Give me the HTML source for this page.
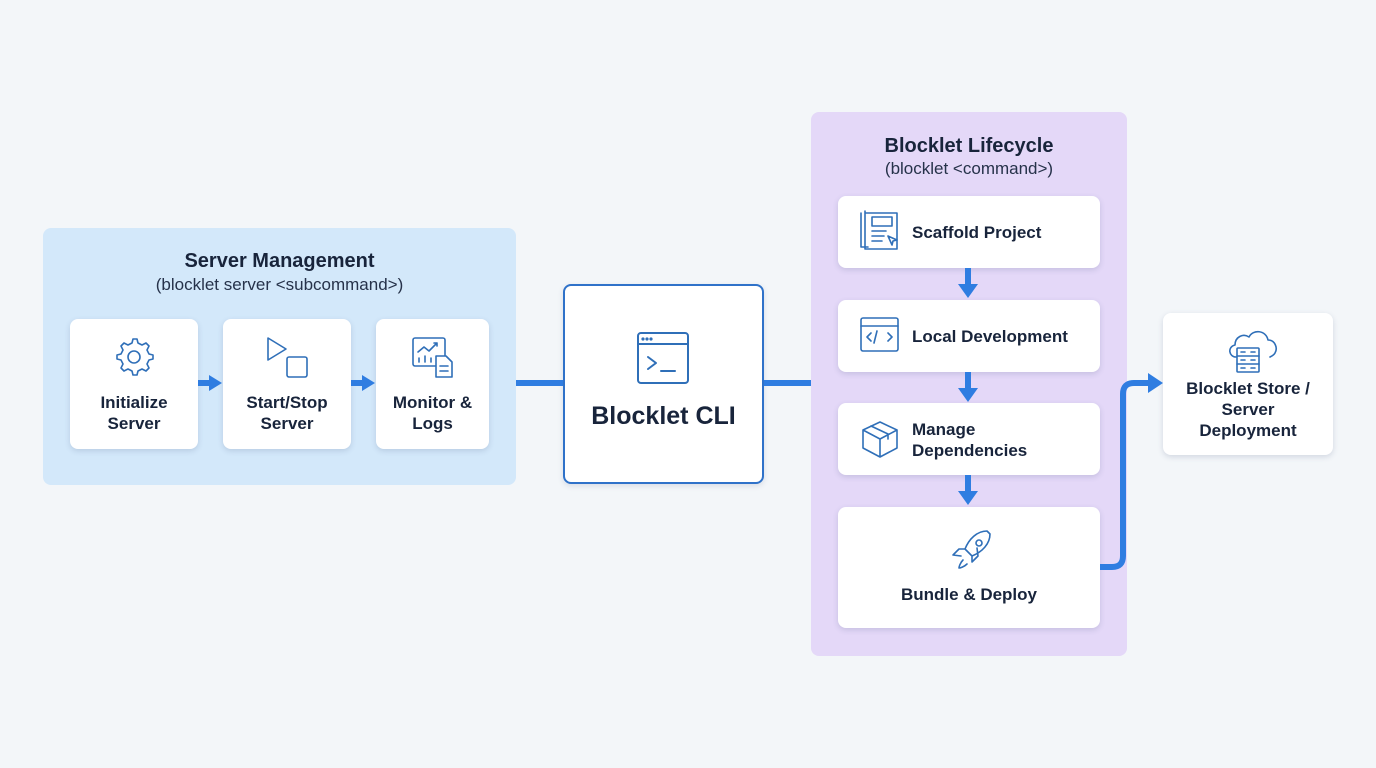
<!DOCTYPE html>
<html><head><style>
body{margin:0;width:1376px;height:768px;background:#f3f6f9;font-family:"Liberation Sans",sans-serif;position:relative;overflow:hidden;color:#18243b}
.a{position:absolute}
.card{position:absolute;background:#fff;border-radius:8px;box-shadow:0 2px 6px rgba(60,80,120,.18)}
.t{font-weight:bold;font-size:17px;text-align:center;line-height:21px}
.h{font-weight:bold;font-size:20px;text-align:center}
.s{font-size:17px;text-align:center;color:#26324a}
svg{position:absolute}
</style></head><body>
<div class="a" style="left:43px;top:228px;width:473px;height:257px;background:#d3e8fa;border-radius:8px"></div>
<div class="a h" style="left:43px;top:250px;width:473px">Server Management</div>
<div class="a s" style="left:43px;top:275px;width:473px">(blocklet server &lt;subcommand&gt;)</div>

<div class="card" style="left:70px;top:319px;width:128px;height:130px"></div>
<div class="card" style="left:223px;top:319px;width:128px;height:130px"></div>
<div class="card" style="left:376px;top:319px;width:113px;height:130px"></div>
<div class="a t" style="left:70px;top:392px;width:128px">Initialize<br>Server</div>
<div class="a t" style="left:223px;top:392px;width:128px">Start/Stop<br>Server</div>
<div class="a t" style="left:376px;top:392px;width:113px">Monitor &amp;<br>Logs</div>

<div class="a" style="left:811px;top:112px;width:316px;height:544px;background:#e4d8f8;border-radius:8px"></div>
<div class="a h" style="left:811px;top:135px;width:316px">Blocklet Lifecycle</div>
<div class="a s" style="left:811px;top:159px;width:316px">(blocklet &lt;command&gt;)</div>
<div class="card" style="left:838px;top:196px;width:262px;height:72px"></div>
<div class="card" style="left:838px;top:300px;width:262px;height:72px"></div>
<div class="card" style="left:838px;top:403px;width:262px;height:72px"></div>
<div class="card" style="left:838px;top:507px;width:262px;height:121px"></div>
<div class="a t" style="left:912px;top:222px;text-align:left">Scaffold Project</div>
<div class="a t" style="left:912px;top:326px;text-align:left">Local Development</div>
<div class="a t" style="left:912px;top:419px;text-align:left">Manage<br>Dependencies</div>
<div class="a t" style="left:838px;top:584px;width:262px">Bundle &amp; Deploy</div>

<div class="card" style="left:1163px;top:313px;width:170px;height:142px"></div>
<div class="a t" style="left:1163px;top:378px;width:170px">Blocklet Store /<br>Server<br>Deployment</div>

<div class="a" style="left:563px;top:284px;width:197px;height:196px;background:#fff;border:2px solid #2f72c9;border-radius:8px;box-shadow:0 2px 6px rgba(60,80,120,.15)"></div>
<div class="a" style="left:563px;top:402px;width:201px;text-align:center;font-weight:bold;font-size:25px">Blocklet CLI</div>

<svg width="1376" height="768" style="left:0;top:0" fill="none" stroke="#2f6fb8" stroke-width="1.6" stroke-linecap="round" stroke-linejoin="round">
<g stroke="#2f7de1" fill="#2f7de1">
<rect x="198" y="380" width="12" height="6" stroke="none"/><path d="M209 375 L222 383 L209 391Z" stroke="none"/>
<rect x="351" y="380" width="12" height="6" stroke="none"/><path d="M362 375 L375 383 L362 391Z" stroke="none"/>
<rect x="516" y="380" width="47" height="6" stroke="none"/>
<rect x="764" y="380" width="47" height="6" stroke="none"/>
<rect x="965" y="268" width="6" height="18" stroke="none"/><path d="M958 284 L968 298 L978 284Z" stroke="none"/>
<rect x="965" y="372" width="6" height="18" stroke="none"/><path d="M958 388 L968 402 L978 388Z" stroke="none"/>
<rect x="965" y="475" width="6" height="18" stroke="none"/><path d="M958 491 L968 505 L978 491Z" stroke="none"/>
<path d="M1100 567 H1112 Q1123 567 1123 556 V394 Q1123 383 1134 383 H1150" fill="none" stroke-width="6" stroke-linecap="butt"/>
<path d="M1148 373 L1163 383 L1148 393Z" stroke="none"/>
</g>
<circle cx="134" cy="357" r="6"/>
<path d="M134 339 l3 0 1 4 4 2 4-2 3 3-2 4 2 4 4 1 0 4-4 1-2 4 2 4-3 3-4-2-4 2-1 4h-4l-1-4-4-2-4 2-3-3 2-4-2-4-4-1v-4l4-1 2-4-2-4 3-3 4 2 4-2 1-4z"/>
<path d="M268 338 L286 349 L268 360Z"/><rect x="287" y="357" width="20" height="20" rx="2"/>
<rect x="413" y="338" width="32" height="28" rx="2"/><path d="M418 352 l6-5 5 4 8-8 M434 343h3v3 M419 362v-4 M425 362v-6 M431 362v-4"/>
<path d="M436 356h10l6 6v15h-16z M440 366h8 M440 371h8" fill="#fff"/>
<rect x="638" y="333" width="50" height="50" rx="3" stroke-width="2"/><path d="M638 344h50 M648 357l8 6-8 6 M661 371h14" stroke-width="2"/>
<circle cx="643" cy="339" r=".8"/><circle cx="647" cy="339" r=".8"/><circle cx="651" cy="339" r=".8"/>
<path d="M861 213v34h7 M865 211v38h32v-36h-32"/><rect x="872" y="217" width="20" height="9"/><path d="M872 231h14 M872 236h12 M872 241h10 M888 236l9 4-4 1-1 4z"/>
<rect x="861" y="318" width="37" height="33" rx="2"/><path d="M861 326h37 M877 331l-3 12 M871 333l-4 4 4 4 M888 333l4 4-4 4"/>
<path d="M880 422l17 8v18l-17 9-17-9v-18z M863 430l17 9 17-9 M880 439v18 M871 426l17 8v5"/>
<path d="M987 531c-10 0-18 8-22 18l7 7c10-4 18-12 18-22z M965 549h-6l-6 6 8 1 M972 556v6l6-6-1-8 M963 560c-3 3-4 7-4 8 1 0 5-1 8-4"/><circle cx="979" cy="543" r="3"/>
<path d="M1236 357c-7 0-9-10-1-12 0-8 8-12 14-8 4-8 17-7 19 3 7 0 10 8 7 13-1 2-3 3-5 4"/>
<rect x="1237" y="348" width="22" height="24" rx="1" fill="#fff"/><path d="M1237 356h22 M1237 364h22 M1241 352h4 M1241 360h4 M1241 368h4 M1251 352h4 M1251 360h4 M1251 368h4"/>
</svg>
</body></html>
